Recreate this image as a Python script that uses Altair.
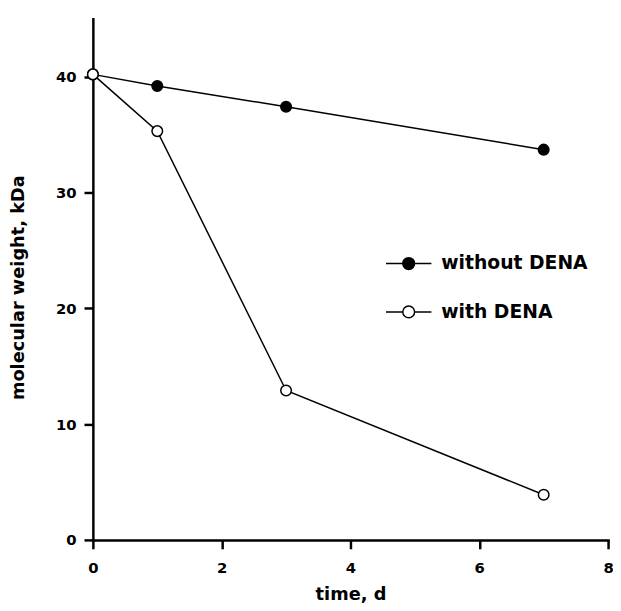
import altair as alt
import pandas as pd

days = [0, 1, 3, 7]
without_dena = [40.2, 39.2, 37.4, 33.7]
with_dena = [40.2, 35.3, 12.9, 3.9]
series_names = ["without DENA", "with DENA"]
x_ticks = [0, 2, 4, 6, 8]
y_ticks = [0, 10, 20, 30, 40]

rows = []
for name, vals in zip(series_names, [without_dena, with_dena]):
    for d, v in zip(days, vals):
        rows.append({"day": d, "mw": v, "series": name})
df = pd.DataFrame(rows)

FONT = "DejaVu Sans"

# legend symbol: line with a circle in the middle
r = 0.26
sym = (f"M-1,0H{-r} M{r},0H1 "
       f"M{-r},0A{r},{r} 0 1,0 {r},0A{r},{r} 0 1,0 {-r},0Z")

x = alt.X("day:Q", scale=alt.Scale(domain=[0, 8], nice=False),
          axis=alt.Axis(values=x_ticks, title="time, d", labelPadding=12,
                        labelFlush=False, titleY=60,
                        titleBaseline="alphabetic"))
y = alt.Y("mw:Q", scale=alt.Scale(domain=[0, 45], nice=False),
          axis=alt.Axis(values=y_ticks, title="molecular weight, kDa",
                        labelPadding=8, labelFlush=False, titleX=-70,
                        titleY=272, titleBaseline="alphabetic"))

base = alt.Chart(df)
lines = base.mark_line(color="black", strokeWidth=1.5).encode(
    x=x, y=y, detail="series:N")
points = base.mark_point(filled=True, size=115, stroke="black",
                         strokeWidth=1.5, opacity=1).encode(
    x=x, y=y,
    fill=alt.Fill("series:N",
                  scale=alt.Scale(domain=series_names, range=["black", "white"]),
                  legend=alt.Legend(title=None, orient="none", legendX=296,
                                    legendY=224, symbolType=sym,
                                    symbolSize=2116, symbolStrokeColor="black",
                                    symbolStrokeWidth=1.5, labelFont=FONT,
                                    labelFontSize=19, labelFontWeight="bold",
                                    labelColor="black", labelOffset=9,
                                    rowPadding=15, padding=0)),
)

chart = (lines + points).properties(
    width=522, height=528,
    autosize=alt.AutoSizeParams(type="none"),
    padding={"left": 86, "top": 7, "right": 5, "bottom": 60},
).configure_view(stroke=None).configure_axis(
    grid=False, domainColor="black", domainWidth=2.5, tickColor="black",
    tickWidth=2.5, tickSize=9, labelFont=FONT, labelFontSize=15,
    labelFontWeight="bold", labelColor="black", titleFont=FONT,
    titleFontSize=18, titleFontWeight="bold", titleColor="black",
    domainCap="square",
)

chart.save("out.html", embed_options={"renderer": "svg", "actions": False})
